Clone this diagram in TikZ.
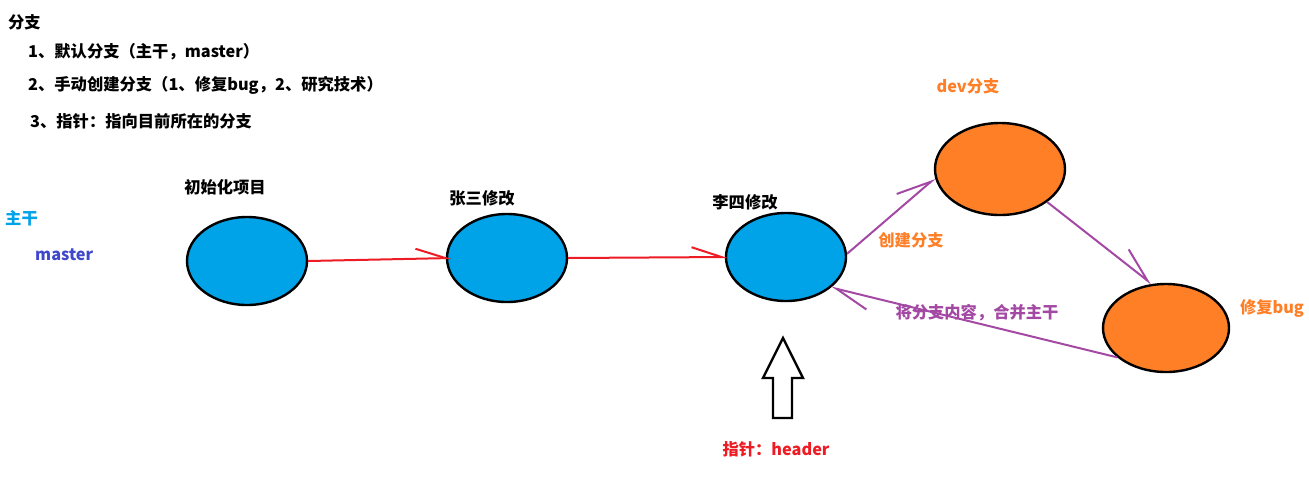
\documentclass[tikz,border=0pt]{standalone}
\usepackage{fontspec}
\setmainfont{Noto Sans CJK SC}
\usetikzlibrary{shapes.geometric,arrows.meta}
\definecolor{pblue}{RGB}{0,162,232}
\definecolor{porange}{RGB}{255,127,39}
\definecolor{pred}{RGB}{237,28,36}
\definecolor{ppurple}{RGB}{163,73,164}
\definecolor{pindigo}{RGB}{63,72,204}

\begin{document}
\begin{tikzpicture}[x=1pt,y=-1pt,
  font=\fontsize{16.3}{19}\selectfont\bfseries,
  every node/.style={inner sep=0pt},
  commit/.style={ellipse,draw=black,line width=2.4pt,fill=pblue,minimum width=120pt,minimum height=88pt},
  devcommit/.style={commit,fill=porange,minimum width=130pt,minimum height=92pt},
  tag/.style={anchor=west},
  redline/.style={draw=pred,line width=2pt,-{Straight Barb[harpoon,length=30pt,width=20pt]}},
  purpleline/.style={draw=ppurple,line width=2pt,-{Straight Barb[harpoon,length=34pt,width=26pt]}}]

\useasboundingbox (0,0) rectangle (1309,483);

% notes
\node[tag] (title) at (8,22) {分支};
\node[tag] (note1) at (28,52) {1、默认分支（主干，master）};
\node[tag] (note2) at (28,85) {2、手动创建分支（1、修复bug，2、研究技术）};
\node[tag] (note3) at (30,121) {3、指针：指向目前所在的分支};

% trunk
\node[tag,text=pblue] (trunk) at (5,218) {主干};
\node[tag,text=pindigo] (master) at (35,255) {master};

% commits
\node[commit] (init) at (247,261) {};
\node[commit] (zhang) at (507,258) {};
\node[commit] (li) at (786,257) {};
\node[devcommit] (dev) at (1000,169) {};
\node[devcommit,minimum width=126pt,minimum height=88pt] (fix) at (1166,328) {};

\node (initlbl) at (225,187) {初始化项目};
\node (zhanglbl) at (482,198) {张三修改};
\node (lilbl) at (745,202) {李四修改};
\node[text=porange] (devlbl) at (968,86) {dev分支};
\node[text=porange] (fixlbl) at (1272,308) {修复bug};

% connectors
\draw[redline] (init.east) -- ([xshift=6pt]zhang.west);
\draw[redline] (zhang.east) -- ([xshift=3pt]li.west);
\draw[purpleline] (li.3) -- (dev.188);
\draw[purpleline] (dev.-35) -- (fix.108);
\draw[purpleline] (fix.211) -- (li.-34);

\node[text=porange] (branchlbl) at (911,240) {创建分支};
\node[text=ppurple] (mergelbl) at (977,313) {将分支内容，合并主干};

% head pointer
\draw[line width=2.4pt,line join=miter] (783,338) -- (803,378) -- (792,378) -- (792,418)
  -- (773,418) -- (773,378) -- (763,378) -- cycle;
\node[text=pred] (headlbl) at (776,449) {指针：header};
\end{tikzpicture}
\end{document}
